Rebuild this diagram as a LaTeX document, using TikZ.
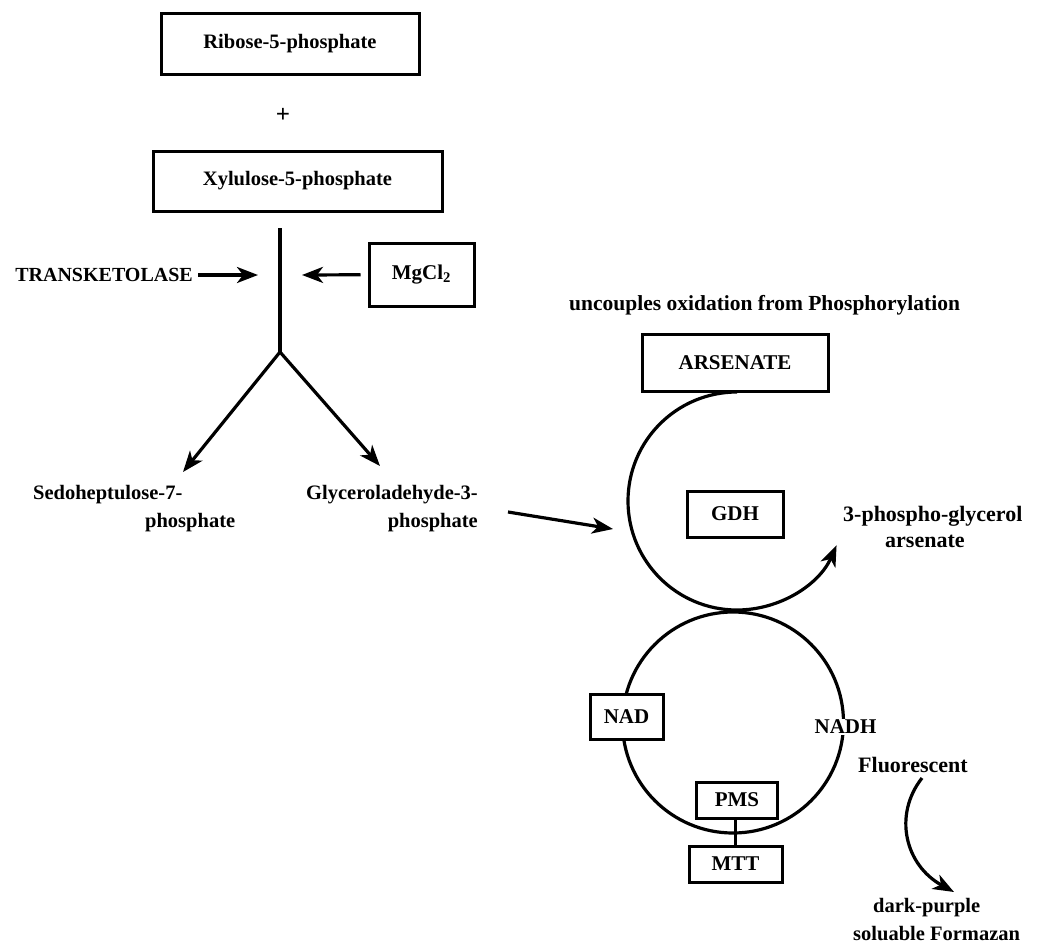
\documentclass[tikz,border=0pt]{standalone}
\usepackage{fontspec}
\setmainfont{Liberation Serif}
\usetikzlibrary{arrows.meta}
\begin{document}
\begin{tikzpicture}[x=1pt,y=1pt,
  ln/.style={line width=3.2pt},
  arr/.style={line width=3.2pt,-{Stealth[length=21pt,width=16pt,inset=6pt]}},
  bt/.style={font=\fontsize{20.5}{28}\selectfont\bfseries, inner sep=1pt},
  rt/.style={font=\fontsize{21}{28}\selectfont\bfseries, inner sep=1pt},
  bx/.style 2 args={draw, line width=3pt, fill=white, minimum width=#1, minimum height=#2, inner sep=0pt}]
\useasboundingbox (0,0) rectangle (1039,-945);
% top part
\node[bx={258}{61}, bt] (ribose) at (290,-43.5) {Ribose-5-phosphate};
\node[bt, font=\fontsize{25}{28}\selectfont\bfseries] (plus) at (283,-115) {+};
\node[bx={289}{60}, bt] (xylu) at (297.5,-181) {Xylulose-5-phosphate};
\coordinate (vtop) at (280,-228);
\coordinate (br) at (280,-352);
\draw[ln] (vtop) -- (br);
\node[bt, anchor=east, font=\fontsize{20}{28}\selectfont\bfseries] (tk) at (194,-275) {TRANSKETOLASE};
\coordinate (tkend) at (258,-275);
\draw[arr, shorten <=4pt] (tk) -- (tkend);
\node[bx={105}{63}, rt] (mg) at (421.5,-274.5) {MgCl\textsubscript{2}};
\coordinate (mgend) at (302,-275);
\draw[arr, shorten <=7pt] (mg) -- (mgend);
\coordinate (sedtip) at (183,-472);
\coordinate (g3ptip) at (380,-466);
\draw[arr] (br) -- (sedtip);
\draw[arr] (br) -- (g3ptip);
\node[bt, anchor=west, align=left] (sed) at (32,-509) {Sedoheptulose-7-\\\hspace*{112pt}phosphate};
\node[bt, anchor=east, align=right] (g3p) at (479,-509) {Glyceroladehyde-3-\\phosphate};
\coordinate (ga1) at (508,-512);
\coordinate (ga2) at (613,-529);
\draw[arr] (ga1) -- (ga2);
% right part
\node[bt, anchor=west, font=\fontsize{21.5}{28}\selectfont\bfseries] (unc) at (568,-305) {uncouples oxidation from Phosphorylation};
\node[bx={186}{57}, rt] (ars) at (735,-362.5) {ARSENATE};
\coordinate (upc) at (737,-501);
\draw[arr] ([yshift=109pt]upc) arc[start angle=90, end angle=336, radius=109];
\node[bx={96}{46}, rt] (gdh) at (735,-514) {GDH};
\node[bt, anchor=west, align=left, font=\fontsize{22}{26}\selectfont\bfseries] (pgl) at (842,-527) {3-phospho-glycerol\\\hspace*{42pt}arsenate};
\coordinate (loc) at (733,-722.5);
\draw[ln] (loc) circle[radius=110.5];
\node[bx={73}{45}, rt] (nad) at (626.5,-716.5) {NAD};
\node[rt, fill=white] (nadh) at (845.5,-727) {NADH};
\node[bx={81}{36}, rt] (pms) at (737,-800) {PMS};
\node[bx={93}{36}, rt] (mtt) at (735.5,-864) {MTT};
\draw[ln] (mtt.north) -- (mtt.north |- pms.south);
\node[rt, anchor=west, font=\fontsize{22}{28}\selectfont\bfseries] (fl) at (857,-765) {Fluorescent};
\coordinate (ca1) at (922,-778);
\coordinate (ca2) at (954,-892);
\draw[arr] (ca1) .. controls (893,-815) and (905,-865) .. (ca2);
\node[bt, anchor=west, align=left] (dp) at (852,-920) {\hspace*{20pt}dark-purple\\soluable Formazan};
\end{tikzpicture}
\end{document}
